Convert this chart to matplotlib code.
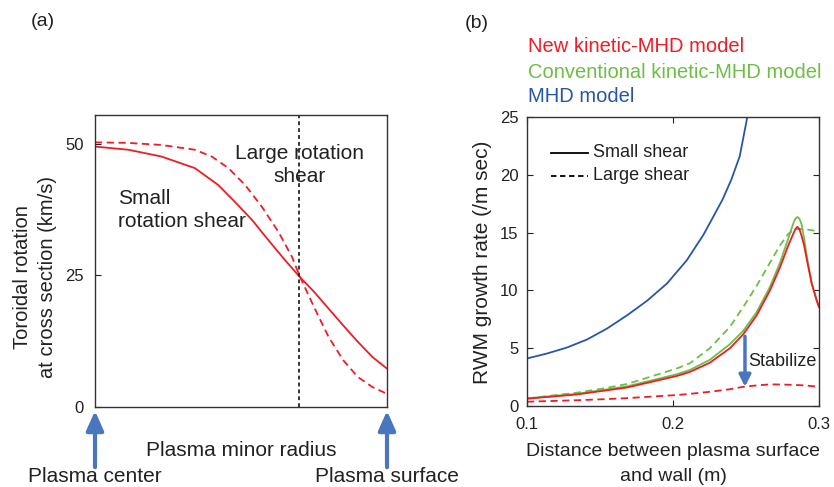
import matplotlib
matplotlib.use("Agg")
import matplotlib.pyplot as plt
from matplotlib.patches import FancyArrowPatch

plt.rcParams['font.family'] = ['Liberation Sans', 'DejaVu Sans']

# ---- Panel (a) data ----
r_small = [0.0, 0.114, 0.228, 0.342, 0.422, 0.479, 0.537, 0.594, 0.651, 0.7, 0.75, 0.8, 0.85, 0.9, 0.95, 1.0]
rot_small = [49.5, 48.9, 47.6, 45.4, 42.2, 39.0, 35.6, 31.7, 27.9, 24.8, 21.9, 18.7, 15.5, 12.4, 9.5, 7.3]
r_large = [0.0, 0.114, 0.228, 0.342, 0.400, 0.457, 0.514, 0.571, 0.628, 0.674, 0.7, 0.75, 0.8, 0.85, 0.9, 0.95, 1.0]
rot_large = [50.3, 50.2, 49.8, 48.9, 47.6, 45.4, 42.2, 38.1, 33.3, 28.6, 25.0, 19.0, 13.3, 8.9, 5.7, 3.8, 2.5]
a_yticks = [0, 25, 50]
ref_radius = 0.7

# ---- Panel (b) data ----
d_mhd = [0.1, 0.1137, 0.1274, 0.1411, 0.1548, 0.1685, 0.1822, 0.1959, 0.2094, 0.2208,
         0.2277, 0.2341, 0.2400, 0.2457, 0.2509, 0.2545]
g_mhd = [4.11, 4.54, 5.06, 5.75, 6.70, 7.84, 9.1, 10.6, 12.6, 14.8,
         16.4, 17.9, 19.6, 21.6, 25.0, 28.0]

d_small = [0.1, 0.1342, 0.1685, 0.2027, 0.2116, 0.2253, 0.2390, 0.2481, 0.2573, 0.2664,
           0.2733, 0.2790, 0.2824, 0.2838, 0.2852, 0.2866, 0.2881, 0.2898, 0.2916, 0.2950, 0.2984, 0.3]
g_new_small = [0.63, 1.0, 1.6, 2.6, 2.95, 3.75, 5.0, 6.2, 7.84, 10.0,
               12.0, 13.9, 14.9, 15.3, 15.5, 15.3, 14.7, 13.9, 12.7, 10.6, 9.14, 8.56]
g_conv_small = [0.66, 1.05, 1.7, 2.75, 3.12, 4.0, 5.35, 6.5, 8.12, 10.3,
                12.4, 14.5, 15.8, 16.2, 16.35, 16.2, 15.7, 14.5, 13.0, 10.6, 9.14, 8.56]

d_large = [0.1, 0.1342, 0.1514, 0.1685, 0.2027, 0.2116, 0.2253, 0.2390, 0.2481, 0.2573,
           0.2664, 0.2733, 0.2790, 0.2836, 0.2905, 0.3]
g_conv_large = [0.66, 1.15, 1.5, 1.9, 3.25, 3.7, 5.0, 6.85, 8.56, 10.4,
                12.4, 13.9, 14.9, 15.3, 15.3, 15.1]
g_new_large = [0.37, 0.5, 0.58, 0.68, 0.95, 1.05, 1.23, 1.45, 1.66, 1.78,
               1.87, 1.86, 1.84, 1.82, 1.78, 1.66]

stab_x = 0.2493
stab_from = 6.03
stab_to = 1.66
b_xticks = [0.1, 0.2, 0.3]
b_xticklabels = ['0.1', '0.2', '0.3']
b_yticks = [0, 5, 10, 15, 20, 25]

RED = '#ee1c25'
GREEN = '#6cbf46'
BLUE = '#2856a6'
ARROW = '#4a76c0'
TXT = '#222222'
DASH = (0, (4, 2.5))

W, H = 834, 487
fig = plt.figure(figsize=(W/100, H/100), dpi=100)

# ---------------- Panel (a) ----------------
axa = fig.add_axes([95/W, 1-407/H, 292/W, 292/H])
axa.plot(r_small, rot_small, color=RED, lw=1.3)
axa.plot(r_large, rot_large, color=RED, lw=1.3, ls=DASH)
axa.axvline(ref_radius, color='black', lw=1.1, ls=(0, (2.5, 2)))
axa.set_xlim(0, 1)
axa.set_ylim(0, 55.5)
axa.set_xticks([])
axa.set_yticks(a_yticks)
axa.tick_params(axis='y', direction='in', length=4, labelsize=12, colors=TXT, pad=8)
for s in axa.spines.values():
    s.set_linewidth(1.0)
    s.set_color('#333333')
axa.text(0.078, 37.4, 'Small\nrotation shear', fontsize=15, color=TXT, ha='left', va='center', linespacing=1.3)
axa.text(0.7, 46.0, 'Large rotation\nshear', fontsize=15, color=TXT, ha='center', va='center', linespacing=1.3)
fig.text(35/W, 1-277/H, 'Toroidal rotation\nat cross section (km/s)', fontsize=14.5, color=TXT,
         rotation=90, ha='center', va='center', linespacing=1.4)

# arrows and labels below panel (a)
for xpix in (95, 387):
    fig.add_artist(FancyArrowPatch(
        (xpix/W, 1-470/H), (xpix/W, 1-408/H), transform=fig.transFigure,
        arrowstyle='-|>,head_width=4,head_length=9', color=ARROW, lw=3, mutation_scale=1.3))
fig.text(241/W, 1-451/H, 'Plasma minor radius', fontsize=15, color=TXT, ha='center', va='center')
fig.text(95/W, 1-476/H, 'Plasma center', fontsize=15, color=TXT, ha='center', va='center')
fig.text(387/W, 1-476/H, 'Plasma surface', fontsize=15, color=TXT, ha='center', va='center')
fig.text(43/W, 1-21/H, '(a)', fontsize=14, color=TXT, ha='center', va='center')

# ---------------- Panel (b) ----------------
axb = fig.add_axes([527/W, 1-406/H, 292/W, 289/H])
axb.plot(d_mhd, g_mhd, color=BLUE, lw=1.3)
axb.plot(d_large, g_conv_large, color=GREEN, lw=1.3, ls=DASH)
axb.plot(d_large, g_new_large, color=RED, lw=1.3, ls=DASH)
axb.plot(d_small, g_conv_small, color=GREEN, lw=1.3)
axb.plot(d_small, g_new_small, color=RED, lw=1.3)
axb.set_xlim(0.1, 0.3)
axb.set_ylim(0, 25)
axb.set_xticks(b_xticks)
axb.set_xticklabels(b_xticklabels)
axb.set_yticks(b_yticks)
axb.tick_params(direction='in', length=4, labelsize=12, colors=TXT, top=True, right=True)
axb.tick_params(axis='x', pad=8)
axb.tick_params(axis='y', pad=6)
for s in axb.spines.values():
    s.set_linewidth(1.0)
    s.set_color('#333333')
fig.text(673/W, 1-464/H, 'Distance between plasma surface\nand wall (m)', fontsize=14, color=TXT,
         ha='center', va='center', linespacing=1.55)
fig.text(483/W, 1-262/H, 'RWM growth rate (/m sec)', fontsize=15, color=TXT,
         rotation=90, ha='center', va='center')

# in-axes legend (line style)
axb.plot([0.1165, 0.1415], [21.9, 21.9], color='black', lw=1.3)
axb.plot([0.1165, 0.1415], [19.9, 19.9], color='black', lw=1.3, ls=(0, (3, 2)))
axb.text(0.1455, 21.9, 'Small shear', fontsize=13, color=TXT, va='center', ha='left')
axb.text(0.1455, 19.9, 'Large shear', fontsize=13, color=TXT, va='center', ha='left')

# stabilize arrow
axb.annotate('', xy=(stab_x, stab_to), xytext=(stab_x, stab_from),
             arrowprops=dict(arrowstyle='-|>,head_width=0.35,head_length=0.7', color=ARROW, lw=2.5,
                             shrinkA=0, shrinkB=0))
axb.text(0.2515, 3.85, 'Stabilize', fontsize=13, color=TXT, ha='left', va='center')

# colour legend above
fig.text(528/W, 1-46/H, 'New kinetic-MHD model', fontsize=14.5, color=RED, ha='left', va='center')
fig.text(528/W, 1-72/H, 'Conventional kinetic-MHD model', fontsize=14.5, color=GREEN, ha='left', va='center')
fig.text(528/W, 1-97/H, 'MHD model', fontsize=14.5, color=BLUE, ha='left', va='center')
fig.text(477/W, 1-23/H, '(b)', fontsize=14, color=TXT, ha='center', va='center')

fig.savefig('out.png', dpi=100, facecolor='white')
